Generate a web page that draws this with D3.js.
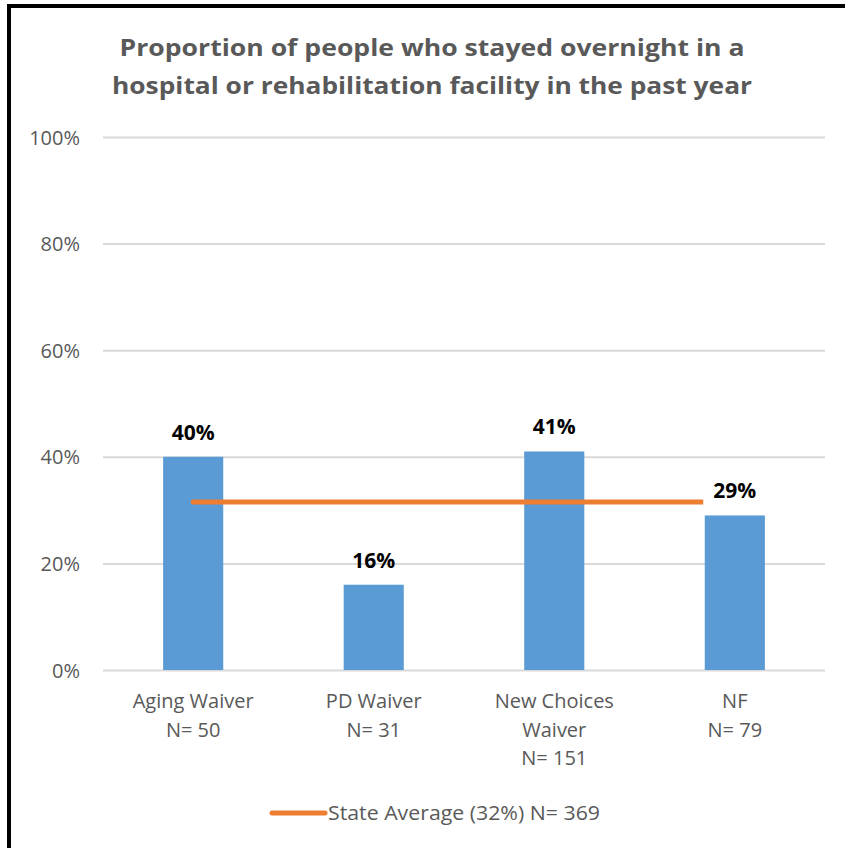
<!DOCTYPE html>
<html><head><meta charset="utf-8">
<script src="https://cdn.jsdelivr.net/npm/d3@7"></script>
<style>html,body{margin:0;padding:0;background:#fff;}svg{display:block;}</style>
</head><body>
<script>
const titleLines = ["Proportion of people who stayed overnight in a", "hospital or rehabilitation facility in the past year"];
const categories = [["Aging Waiver", "N= 50"], ["PD Waiver", "N= 31"], ["New Choices", "Waiver", "N= 151"], ["NF", "N= 79"]];
const values = [0.40, 0.16, 0.41, 0.29];
const valueLabels = ["40%", "16%", "41%", "29%"];
const stateAverage = 0.315;
const legendLabel = "State Average (32%) N= 369";
const yTicks = [0, 0.2, 0.4, 0.6, 0.8, 1.0];

const W = 845, H = 848;
const svg = d3.select("body").append("svg").attr("width", W).attr("height", H);
svg.append("rect").attr("width", W).attr("height", H).attr("fill", "#fff");
// borders (top & left)
svg.append("rect").attr("x", 7).attr("y", 4).attr("width", W - 7).attr("height", 4).attr("fill", "#000");
svg.append("rect").attr("x", 7).attr("y", 4).attr("width", 4).attr("height", H - 4).attr("fill", "#000");

const x = d3.scaleBand().domain(d3.range(categories.length)).range([103, 825]).paddingInner(0.667).paddingOuter(0.333);
const y = d3.scaleLinear().domain([0, 1]).range([670, 137]);

// title
svg.append("g").selectAll("text").data(titleLines).join("text")
  .attr("x", 432).attr("y", (d, i) => 56 + i * 38)
  .attr("text-anchor", "middle").attr("font-family", "Open Sans, sans-serif").attr("font-weight", "bold")
  .attr("font-size", 23).attr("fill", "#595959")
  .attr("textLength", (d, i) => i === 0 ? 625 : 640).attr("lengthAdjust", "spacingAndGlyphs")
  .text(d => d);

// gridlines
const yAxis = d3.axisLeft(y).tickValues(yTicks).tickFormat(d3.format(".0%")).tickSize(-(825 - 103)).tickPadding(23);
const gAxis = svg.append("g").attr("transform", "translate(103,0)").call(yAxis);
gAxis.select(".domain").remove();
gAxis.selectAll(".tick line").attr("stroke", "#d9d9d9").attr("stroke-width", 2);
gAxis.selectAll(".tick text").attr("fill", "#595959").attr("font-size", 20).attr("font-family", "Open Sans, sans-serif").attr("dy", "0.35em");

// bars
svg.append("g").selectAll("rect").data(values).join("rect")
  .attr("x", (d, i) => x(i)).attr("width", x.bandwidth())
  .attr("y", d => y(d)).attr("height", d => y(0) - y(d))
  .attr("fill", "#5b9bd5");

// value labels
svg.append("g").selectAll("text").data(values).join("text")
  .attr("x", (d, i) => x(i) + x.bandwidth() / 2).attr("y", d => y(d) - 17)
  .attr("text-anchor", "middle").attr("font-family", "Open Sans, sans-serif").attr("font-weight", "bold")
  .attr("font-size", 21).attr("fill", "#000")
  .text((d, i) => valueLabels[i]);

// state average line
const cx = i => x(i) + x.bandwidth() / 2;
const step = x.step();
svg.append("line")
  .attr("x1", cx(0)).attr("x2", cx(categories.length - 1) - step * 0.175)
  .attr("y1", y(stateAverage)).attr("y2", y(stateAverage))
  .attr("stroke", "#ed7d31").attr("stroke-width", 5);
svg.append("circle").attr("cx", cx(0)).attr("cy", y(stateAverage)).attr("r", 2.5).attr("fill", "#ed7d31");

// category labels
const gCat = svg.append("g");
categories.forEach((lines, i) => {
  gCat.append("text").attr("x", cx(i)).attr("y", 708)
    .attr("text-anchor", "middle").attr("font-family", "Open Sans, sans-serif")
    .attr("font-size", 20).attr("fill", "#595959")
    .selectAll("tspan").data(lines).join("tspan")
    .attr("x", cx(i)).attr("dy", (d, j) => j === 0 ? 0 : 28.5).text(d => d);
});

// legend
svg.append("line").attr("x1", 272).attr("x2", 325).attr("y1", 813).attr("y2", 813)
  .attr("stroke", "#ed7d31").attr("stroke-width", 5).attr("stroke-linecap", "round");
svg.append("text").attr("x", 328).attr("y", 820).attr("font-family", "Open Sans, sans-serif")
  .attr("font-size", 20).attr("fill", "#595959")
  .attr("textLength", 272).attr("lengthAdjust", "spacingAndGlyphs").text(legendLabel);
</script>
</body></html>
